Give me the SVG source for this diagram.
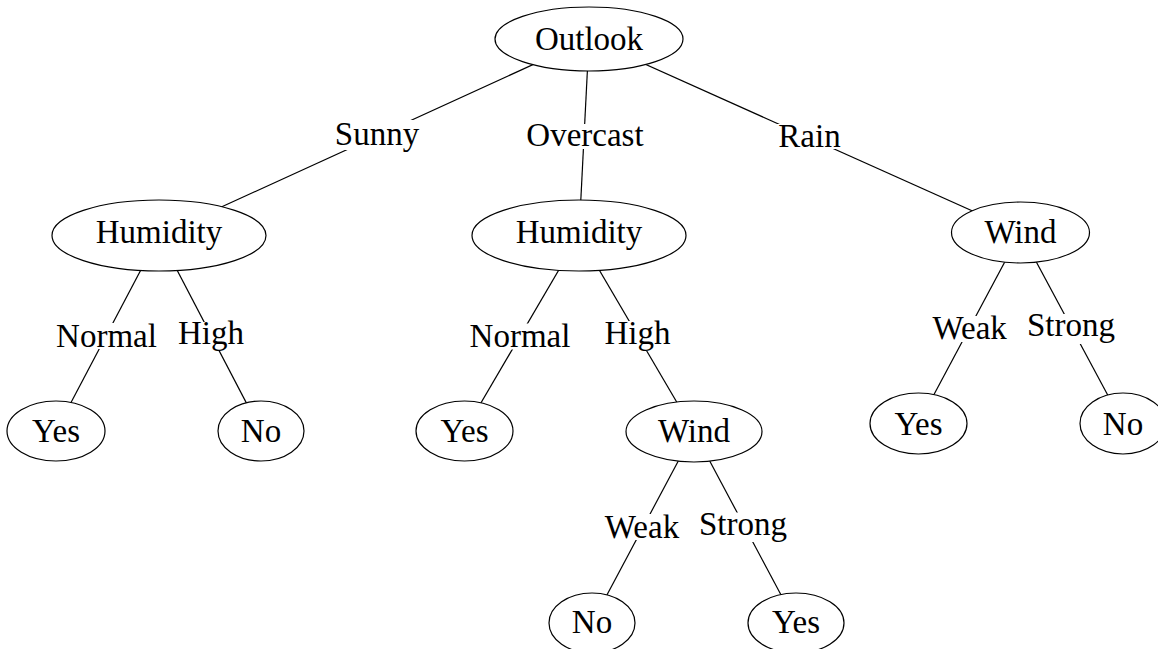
<svg xmlns="http://www.w3.org/2000/svg" width="1158" height="649" viewBox="0 0 1158 649">
<style>
  .edge { stroke: #000; stroke-width: 1.2; fill: none; }
  .node ellipse { fill: #fff; stroke: #000; stroke-width: 1.2; }
  text { font-family: "Liberation Serif", "Times New Roman", serif; font-size: 33px; fill: #000; text-anchor: middle; }
  .lbl rect { fill: #fff; stroke: none; }
</style>
<rect x="0" y="0" width="1158" height="649" fill="#fff"/>
<g id="connectors">
  <line class="edge" x1="589" y1="39" x2="159" y2="235.5"/>
  <line class="edge" x1="589" y1="39" x2="579" y2="235.5"/>
  <line class="edge" x1="589" y1="39" x2="1020.5" y2="232.5"/>
  <line class="edge" x1="159" y1="235.5" x2="56" y2="431"/>
  <line class="edge" x1="159" y1="235.5" x2="261" y2="431"/>
  <line class="edge" x1="579" y1="235.5" x2="464.5" y2="431"/>
  <line class="edge" x1="579" y1="235.5" x2="694" y2="431.5"/>
  <line class="edge" x1="1020.5" y1="232.5" x2="918.5" y2="423.5"/>
  <line class="edge" x1="1020.5" y1="232.5" x2="1123" y2="423.5"/>
  <line class="edge" x1="694" y1="431.5" x2="592" y2="623"/>
  <line class="edge" x1="694" y1="431.5" x2="796" y2="623"/>
</g>
<g id="edge-labels">
  <g class="lbl" id="lbl-sunny"><rect x="332" y="120" width="90" height="30"/><text x="377" y="145">Sunny</text></g>
  <g class="lbl" id="lbl-overcast"><rect x="524" y="124" width="122" height="25"/><text x="585" y="146">Overcast</text></g>
  <g class="lbl" id="lbl-rain"><rect x="776" y="124" width="67" height="25"/><text x="809.5" y="146.5">Rain</text></g>
  <g class="lbl" id="lbl-normal1"><rect x="54" y="323" width="105" height="26"/><text x="106.5" y="346.7">Normal</text></g>
  <g class="lbl" id="lbl-high1"><rect x="176.5" y="322" width="69" height="29"/><text x="211" y="344">High</text></g>
  <g class="lbl" id="lbl-normal2"><rect x="467.5" y="323.5" width="105" height="26"/><text x="520" y="346.7">Normal</text></g>
  <g class="lbl" id="lbl-high2"><rect x="603" y="321" width="69" height="30"/><text x="637.5" y="344">High</text></g>
  <g class="lbl" id="lbl-weak1"><rect x="930" y="316" width="79" height="26"/><text x="969.7" y="339.3">Weak</text></g>
  <g class="lbl" id="lbl-strong1"><rect x="1024" y="314" width="94" height="30"/><text x="1071" y="335.5">Strong</text></g>
  <g class="lbl" id="lbl-weak2"><rect x="602.5" y="514" width="79" height="26"/><text x="642" y="538.3">Weak</text></g>
  <g class="lbl" id="lbl-strong2"><rect x="696" y="512.5" width="94" height="29.5"/><text x="743" y="535">Strong</text></g>
</g>
<g class="node" id="n-outlook"><ellipse cx="589" cy="39" rx="94" ry="32"/><text x="589" y="50">Outlook</text></g>
<g class="node" id="n-humidity1"><ellipse cx="159" cy="235.5" rx="107" ry="35.5"/><text x="159" y="243">Humidity</text></g>
<g class="node" id="n-humidity2"><ellipse cx="579" cy="235.5" rx="107" ry="35.5"/><text x="579" y="243">Humidity</text></g>
<g class="node" id="n-wind1"><ellipse cx="1020.5" cy="232.5" rx="69" ry="30.5"/><text x="1020.5" y="243">Wind</text></g>
<g class="node" id="n-yes1"><ellipse cx="56" cy="431" rx="49" ry="30"/><text x="56" y="441.5">Yes</text></g>
<g class="node" id="n-no1"><ellipse cx="261" cy="431" rx="43" ry="30"/><text x="261" y="441.5">No</text></g>
<g class="node" id="n-yes2"><ellipse cx="464.5" cy="431" rx="48.5" ry="30"/><text x="464.5" y="441.5">Yes</text></g>
<g class="node" id="n-wind2"><ellipse cx="694" cy="431.5" rx="68" ry="30.5"/><text x="694" y="442">Wind</text></g>
<g class="node" id="n-yes3"><ellipse cx="918.5" cy="423.5" rx="48.5" ry="30.5"/><text x="918.5" y="434.5">Yes</text></g>
<g class="node" id="n-no2"><ellipse cx="1123" cy="423.5" rx="43" ry="30.5"/><text x="1123" y="434.5">No</text></g>
<g class="node" id="n-no3"><ellipse cx="592" cy="623" rx="43" ry="30"/><text x="592" y="633">No</text></g>
<g class="node" id="n-yes4"><ellipse cx="796" cy="623" rx="48" ry="30"/><text x="796" y="633">Yes</text></g>
</svg>
